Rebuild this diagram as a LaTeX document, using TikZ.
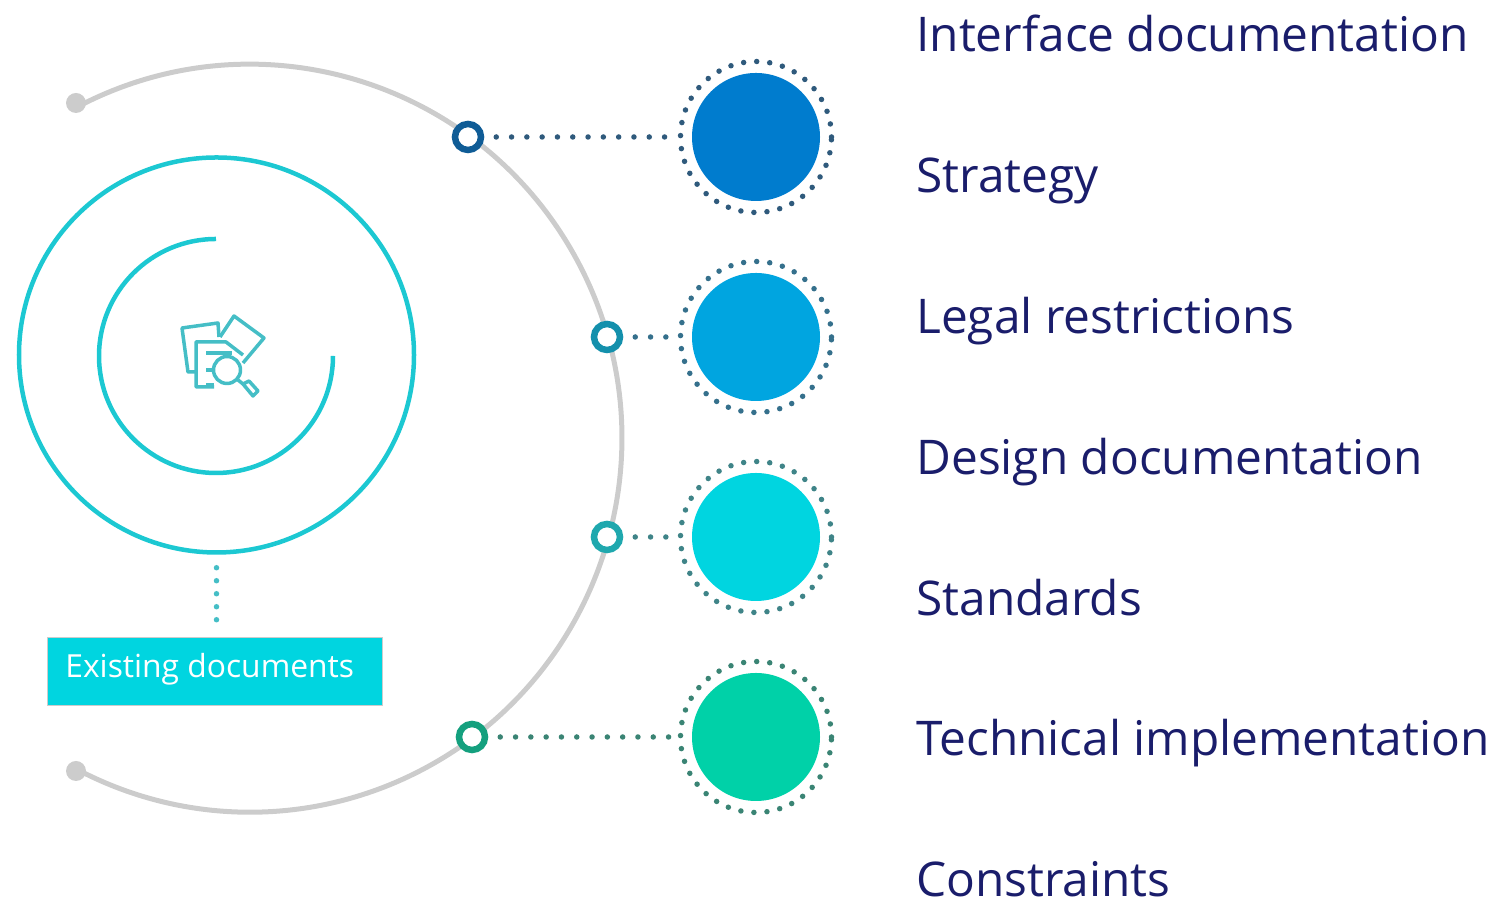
\documentclass[tikz,border=0pt]{standalone}
\usepackage{fontspec}
\setmainfont{Open Sans}
\usepackage{xcolor}
\definecolor{labelblue}{HTML}{1A1D6B}
\definecolor{boxcyan}{HTML}{00D5E0}
\definecolor{ringcyan}{HTML}{1CC8D2}
\definecolor{iconteal}{HTML}{45BEC6}
\definecolor{arcgrey}{HTML}{CCCCCC}
\definecolor{discA}{HTML}{007CCE}
\definecolor{discB}{HTML}{00A5E0}
\definecolor{discC}{HTML}{00D5E0}
\definecolor{discD}{HTML}{00D1A8}
\definecolor{knobA}{HTML}{0F5C96}
\definecolor{knobB}{HTML}{1490AC}
\definecolor{knobC}{HTML}{1FA8AE}
\definecolor{knobD}{HTML}{14A07E}
\definecolor{dotA}{HTML}{2F5A7C}
\definecolor{dotB}{HTML}{35708C}
\definecolor{dotC}{HTML}{3F8488}
\definecolor{dotD}{HTML}{3A8474}
\usetikzlibrary{positioning}
\tikzset{
	px/.style={x=0.2mm,y=0.2mm},
	dots/.style={line width=1.1mm,line cap=round,dash pattern=on 0pt off 3.06mm},
	knob/.style={circle,draw,fill=white,line width=1.3mm,minimum size=5.2mm,inner sep=0pt},
	disc/.style={circle,minimum size=25.6mm,inner sep=0pt},
	halo/.style={circle,dots,dash pattern=on 0pt off 2.62mm,minimum size=30.2mm,inner sep=0pt},
	stub/.style={circle,fill=arcgrey,minimum size=4mm,inner sep=0pt},
	rowlabel/.style={anchor=base west,inner sep=0pt,text=labelblue,font=\fontsize{27.2}{32}\selectfont},
	iconline/.style={draw=iconteal,line width=0.7mm,line join=round},
}

\begin{document}
\begin{tikzpicture}[px]
	\useasboundingbox (0,0) rectangle (1501,901);

	\node[stub] (stubtop) at (76,798) {};
	\node[stub] (stubbot) at (76,130) {};
	\draw[arcgrey,line width=1mm] (81,796) arc[start angle=117,end angle=-117,x radius=372,y radius=374];

	\node[circle,draw=ringcyan,line width=0.9mm,minimum size=79mm,inner sep=0pt] (docring) at (216.5,546) {};
	\draw[ringcyan,line width=0.9mm] (216,662) arc[start angle=90,end angle=360,radius=117];

	\draw[iconline] (196,529) -- (188,529) -- (182,573) -- (218,578) -- (219,564);
	\draw[iconline] (220,564) -- (234,585) -- (264,563) -- (243,538);
	\draw[iconline] (214,514) -- (196,514) -- (196,559) -- (226,559) -- (243,546);
	\draw[iconline] (206,548) -- (232,548) (206,531) -- (214,531) (206,516) -- (214,516);
	\draw[iconline,fill=white] (227,531) circle (13.5);
	\draw[iconline] (238,521) -- (243,517) -- (253,505) -- (258,510) -- (249,520) -- (243,517);

	\node[anchor=south west,minimum width=67mm,minimum height=13.6mm,inner sep=0pt,fill=boxcyan,draw=arcgrey,line width=0.2mm] (docbox) at (47,195) {};
	\node[anchor=base west,inner sep=0pt,text=white,font=\fontsize{18.1}{22}\selectfont] (doctext) at (65,223) {Existing documents};
	\draw[dots,iconteal,dash pattern=on 0pt off 2.6mm,shorten >=3mm,shorten <=2.6mm] (docring.south) -- (docring.south |- docbox.north);

	\foreach \name/\knobx/\ypos in {A/468/764,B/607/564,C/607/364,D/472/164}{
		\node[knob,draw=knob\name] (knob\name) at (\knobx,\ypos) {};
		\node[disc,fill=disc\name] (disc\name) at (756,\ypos) {};
		\node[halo,draw=dot\name] (halo\name) at (756,\ypos) {};
		\draw[dots,dot\name,shorten <=2.4mm] (knob\name) -- (halo\name);
	}

	\node[rowlabel] (labelA) at (916,849) {Interface documentation};
	\node[rowlabel] (labelB) at (916,708) {Strategy};
	\node[rowlabel] (labelC) at (916,567) {Legal restrictions};
	\node[rowlabel] (labelD) at (916,426) {Design documentation};
	\node[rowlabel] (labelE) at (916,285) {Standards};
	\node[rowlabel] (labelF) at (916,145) {Technical implementation};
	\node[rowlabel] (labelG) at (916,4) {Constraints};
\end{tikzpicture}
\end{document}
